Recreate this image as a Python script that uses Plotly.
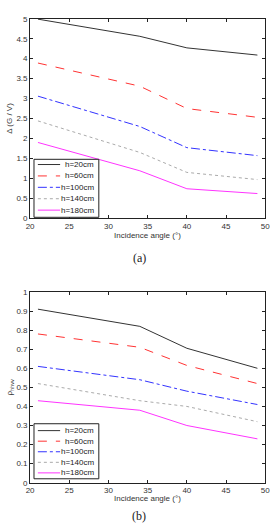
import plotly.graph_objects as go

angles = [21, 34, 40, 49]
labels = ["h=20cm", "h=60cm", "h=100cm", "h=140cm", "h=180cm"]

delta_h20 = [4.99, 4.56, 4.27, 4.09]
delta_h60 = [3.89, 3.31, 2.75, 2.53]
delta_h100 = [3.06, 2.30, 1.77, 1.57]
delta_h140 = [2.44, 1.65, 1.15, 0.97]
delta_h180 = [1.90, 1.19, 0.74, 0.62]

rho_h20 = [0.91, 0.82, 0.705, 0.60]
rho_h60 = [0.78, 0.71, 0.615, 0.52]
rho_h100 = [0.61, 0.54, 0.48, 0.41]
rho_h140 = [0.52, 0.43, 0.40, 0.32]
rho_h180 = [0.43, 0.38, 0.30, 0.23]

colors = ["#333333", "#ff3333", "#3333ff", "#aaaaaa", "#ff33ff"]
dashes = ["solid", "dash", "dashdot", "dot", "solid"]

W, H = 277, 529
def px(x): return x / W
def py(y): return 1 - y / H

fig = go.Figure()
for i, ys in enumerate([delta_h20, delta_h60, delta_h100, delta_h140, delta_h180]):
    fig.add_trace(go.Scatter(x=angles, y=ys, mode="lines", name=labels[i],
                             line=dict(color=colors[i], dash=dashes[i], width=1),
                             xaxis="x", yaxis="y", showlegend=False))
for i, ys in enumerate([rho_h20, rho_h60, rho_h100, rho_h140, rho_h180]):
    fig.add_trace(go.Scatter(x=angles, y=ys, mode="lines", name=labels[i],
                             line=dict(color=colors[i], dash=dashes[i], width=1),
                             xaxis="x2", yaxis="y2", showlegend=False))

tickfont = dict(family="Liberation Sans, Arial", size=8, color="#333333")
axcommon = dict(showgrid=False, zeroline=False, showline=True, linecolor="#222222",
                linewidth=1, mirror="allticks", ticks="inside", ticklen=3,
                tickcolor="#222222", tickfont=tickfont)

# custom compact legends (box + line samples + labels)
shapes = []
annotations = []
legend_boxes = [(31, 158, 98, 217, 163.3, 11.6), (31, 427, 98, 483, 434, 10.75)]
for (x0, y0, x1, y1, r0, step) in legend_boxes:
    shapes.append(dict(type="rect", xref="paper", yref="paper",
                       x0=px(x0), x1=px(x1), y0=py(y1), y1=py(y0),
                       line=dict(color="#222222", width=1), fillcolor="white", layer="above"))
    for i, lab in enumerate(labels):
        yy = r0 + i * step
        shapes.append(dict(type="line", xref="paper", yref="paper",
                           x0=px(35), x1=px(58), y0=py(yy), y1=py(yy),
                           line=dict(color=colors[i], dash=dashes[i], width=1), layer="above"))
        annotations.append(dict(text=lab, x=px(95), y=py(yy), xref="paper", yref="paper",
                                xanchor="right", yanchor="middle", showarrow=False,
                                font=dict(family="Liberation Sans, Arial", size=8, color="#222222")))

capfont = dict(family="Liberation Serif, Times New Roman", size=12, color="#222222")
annotations += [
    dict(text="Incidence angle (°)", x=px(148.5), y=py(235), xref="paper", yref="paper",
         xanchor="center", yanchor="middle", showarrow=False, font=tickfont),
    dict(text="Incidence angle (°)", x=px(148.5), y=py(503), xref="paper", yref="paper",
         xanchor="center", yanchor="middle", showarrow=False, font=tickfont),
    dict(text="(a)", x=px(140), y=py(258), xref="paper", yref="paper",
         xanchor="center", yanchor="middle", showarrow=False, font=capfont),
    dict(text="(b)", x=px(140), y=py(521), xref="paper", yref="paper",
         xanchor="center", yanchor="middle", showarrow=False, font=capfont),
]

xd = [px(27), px(270)]
fig.update_layout(
    width=W, height=H, margin=dict(l=0, r=0, t=0, b=0),
    paper_bgcolor="white", plot_bgcolor="white", showlegend=False,
    xaxis=dict(domain=xd, range=[20, 50], dtick=5, anchor="y", **axcommon),
    yaxis=dict(domain=[py(218), py(15)], range=[0, 5], dtick=0.5, anchor="x",
               title=dict(text="Δ (G / V)", font=tickfont, standoff=2), **axcommon),
    xaxis2=dict(domain=xd, range=[20, 50], dtick=5, anchor="y2", **axcommon),
    yaxis2=dict(domain=[py(487), py(293)], range=[0, 1], dtick=0.1, anchor="x2",
                title=dict(text="ρ<sub>hhvv</sub>", font=tickfont, standoff=2), **axcommon),
    shapes=shapes,
    annotations=annotations,
)

fig.write_html("out.html")
